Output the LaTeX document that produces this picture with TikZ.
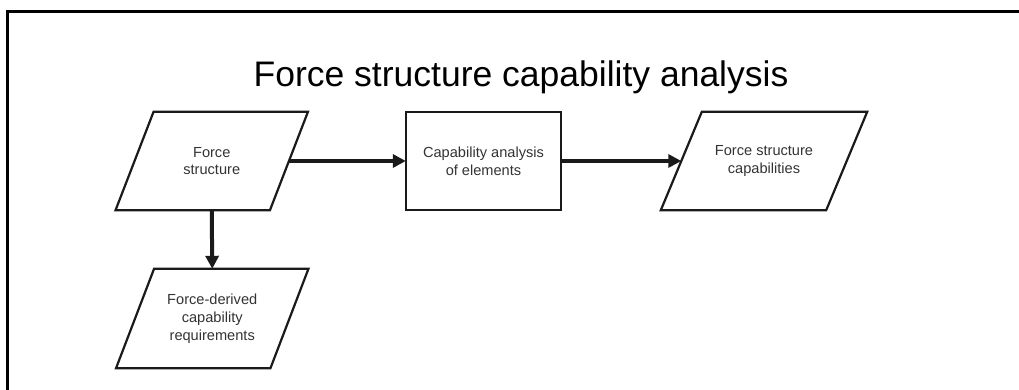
\documentclass[tikz,border=0pt]{standalone}
\usepackage{fontspec}
\setmainfont{Liberation Sans}
\usetikzlibrary{arrows.meta}
\definecolor{linec}{HTML}{1A1A1A}
\definecolor{textc}{HTML}{333333}
\begin{document}
\begin{tikzpicture}[x=1pt,y=-1pt,
  holder/.style={draw=none, inner sep=0pt, align=center, text=textc,
    font=\fontsize{14.6}{17.8}\selectfont},
  outline/.style={draw=linec, line width=2.2pt, line join=miter},
  flow/.style={draw=linec, line width=4pt, -{Triangle[length=13pt,width=13pt]}},
  framel/.style={draw=black, line width=3pt}]
\useasboundingbox (0,0) rectangle (1019,390);
\draw[framel] (7,395) -- (7,12) -- (1025,12);
\node[anchor=base, font=\fontsize{35.5}{40}\selectfont, text=black] (title) at (521,87) {Force structure capability analysis};
% nodes
\node[holder, minimum width=154pt, minimum height=98pt] (p1) at (211.75,161) {Force\\structure};
\node[holder, minimum width=155pt, minimum height=98pt] (r) at (483.5,161) {Capability analysis\\of elements};
\node[holder, minimum width=165pt, minimum height=98pt] (p3) at (764,161) {Force structure\\capabilities};
\node[holder, minimum width=154pt, minimum height=99pt] (p4) at (212.25,318.5) {Force-derived\\capability\\requirements};
% shapes
\draw[outline] ([xshift=19pt]p1.north west) -- ([xshift=19pt]p1.north east) -- ([xshift=-19pt]p1.south east) -- ([xshift=-19pt]p1.south west) -- cycle;
\draw[outline] (r.north west) rectangle (r.south east);
\draw[outline] ([xshift=20.5pt]p3.north west) -- ([xshift=20.5pt]p3.north east) -- ([xshift=-20.5pt]p3.south east) -- ([xshift=-20.5pt]p3.south west) -- cycle;
\draw[outline] ([xshift=19pt]p4.north west) -- ([xshift=19pt]p4.north east) -- ([xshift=-19pt]p4.south east) -- ([xshift=-19pt]p4.south west) -- cycle;
% connectors
\draw[flow] (p1.east) -- (r.west);
\draw[flow] (r.east) -- (p3.west);
\draw[flow] (p1.south) -- (p4.north);
\end{tikzpicture}
\end{document}
